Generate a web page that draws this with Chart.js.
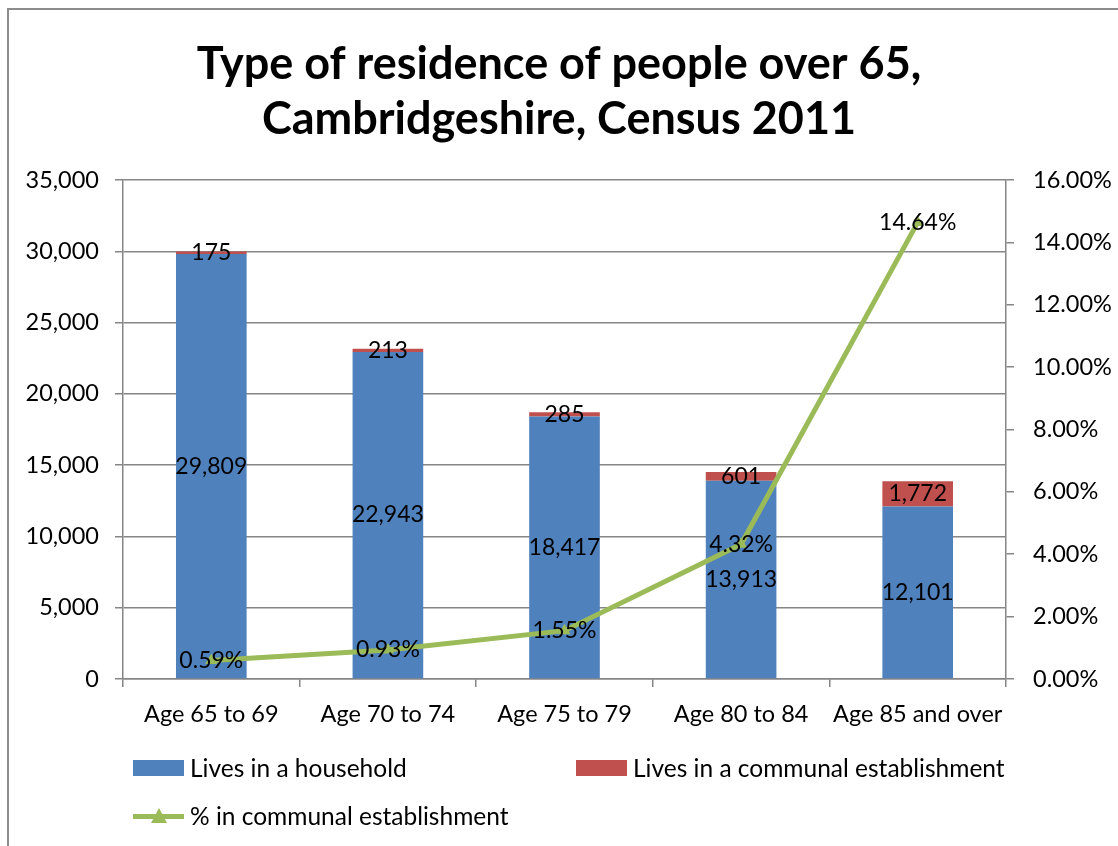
<!DOCTYPE html>
<html>
<head>
<meta charset="utf-8">
<script src="https://cdn.jsdelivr.net/npm/chart.js@4"></script>
<style>
html, body { margin: 0; padding: 0; background: #fff; overflow: hidden; }
#wrap { position: relative; width: 1118px; height: 846px; }
#frame { position: absolute; left: 7px; top: 8px; width: 1200px; height: 1000px; border: 2px solid #8c8c8c; box-sizing: border-box; }
canvas { position: absolute; left: 0; top: 0; }
.item { position: absolute; font-family: Lato, sans-serif; font-size: 24.5px; color: #000; line-height: 28px; white-space: nowrap; }
.box { position: absolute; left: 0; top: 6px; width: 51px; height: 16px; }
.item span.txt { position: absolute; left: 57px; top: 0; }
.ln { position: absolute; left: 0; top: 12px; width: 51px; height: 5px; background: #9BBB59; }
.tri { position: absolute; left: 18px; top: 6px; width: 0; height: 0; border-left: 8px solid transparent; border-right: 8px solid transparent; border-bottom: 15px solid #9BBB59; }
</style>
</head>
<body>
<div id="wrap">
  <div id="frame"></div>
  <canvas id="residenceChart" width="1118" height="846"></canvas>
  <div id="legend"></div>
</div>
<script>
var categories = ['Age 65 to 69', 'Age 70 to 74', 'Age 75 to 79', 'Age 80 to 84', 'Age 85 and over'];
var household = [29809, 22943, 18417, 13913, 12101];
var communal = [175, 213, 285, 601, 1772];
var pctCommunal = [0.59, 0.93, 1.55, 4.32, 14.64];

var FONT = 'Lato, sans-serif';
var GRID = '#868686';

var valueLabels = {
    id: 'valueLabels',
    afterDatasetsDraw: function(chart) {
        var ctx = chart.ctx;
        ctx.save();
        ctx.font = '23px ' + FONT;
        ctx.fillStyle = '#000';
        ctx.textAlign = 'center';
        ctx.textBaseline = 'middle';
        chart.data.datasets.forEach(function(ds, i) {
            var meta = chart.getDatasetMeta(i);
            meta.data.forEach(function(el, j) {
                var v = ds.data[j];
                if (ds.type === 'line') {
                    ctx.fillText(v.toFixed(2) + '%', el.x, el.y);
                } else {
                    ctx.fillText(v.toLocaleString('en-US'), el.x, (el.y + el.base) / 2);
                }
            });
        });
        ctx.restore();
    }
};

var ctx = document.getElementById('residenceChart').getContext('2d');
var residenceChart = new Chart(ctx, {
    type: 'bar',
    data: {
        labels: categories,
        datasets: [{
            label: 'Lives in a household',
            data: household,
            backgroundColor: '#4F81BD',
            order: 2,
            stack: 's'
        }, {
            label: 'Lives in a communal establishment',
            data: communal,
            backgroundColor: '#C0504D',
            order: 2,
            stack: 's'
        }, {
            type: 'line',
            label: '% in communal establishment',
            data: pctCommunal,
            yAxisID: 'y2',
            borderColor: '#9BBB59',
            backgroundColor: '#9BBB59',
            borderWidth: 5,
            pointStyle: 'triangle',
            pointRadius: 7,
            pointBorderWidth: 0,
            tension: 0,
            order: 0
        }]
    },
    options: {
        responsive: false,
        animation: false,
        layout: { padding: 0 },
        datasets: { bar: { barPercentage: 0.4, categoryPercentage: 1 } },
        plugins: {
            legend: { display: false },
            tooltip: { enabled: false },
            title: {
                display: true,
                text: ['Type of residence of people over 65,', 'Cambridgeshire, Census 2011'],
                color: '#000',
                font: { family: FONT, size: 45, weight: 'bold', lineHeight: 1.222 },
                padding: { top: 37, bottom: 33 }
            }
        },
        scales: {
            x: {
                stacked: true,
                grid: { offset: true, drawOnChartArea: false, tickLength: 8, color: GRID, lineWidth: 1.5 },
                border: { color: GRID, width: 1.5 },
                ticks: { color: '#000', font: { family: FONT, size: 23.5 }, padding: 13 },
                afterFit: function(scale) { scale.height = 167; }
            },
            y: {
                stacked: true,
                min: 0,
                max: 35000,
                ticks: {
                    stepSize: 5000,
                    color: '#000',
                    font: { family: FONT, size: 23.5 },
                    padding: 16,
                    callback: function(v) { return v.toLocaleString('en-US'); }
                },
                grid: { color: GRID, lineWidth: 1.5, tickLength: 8 },
                border: { color: GRID, width: 1.5 },
                afterFit: function(scale) { scale.width = 123; }
            },
            y2: {
                position: 'right',
                min: 0,
                max: 16,
                ticks: {
                    stepSize: 2,
                    color: '#000',
                    font: { family: FONT, size: 23.5 },
                    padding: 19,
                    callback: function(v) { return v.toFixed(2) + '%'; }
                },
                grid: { drawOnChartArea: false, color: GRID, lineWidth: 1.5, tickLength: 8 },
                border: { color: GRID, width: 1.5 },
                afterFit: function(scale) { scale.width = 112; }
            }
        }
    },
    plugins: [valueLabels]
});

// legend laid out in two columns like the original
var legendPos = [[133, 754], [576, 754], [133, 802]];
var legend = document.getElementById('legend');
residenceChart.data.datasets.forEach(function(ds, i) {
    var item = document.createElement('div');
    item.className = 'item';
    item.style.left = legendPos[i][0] + 'px';
    item.style.top = legendPos[i][1] + 'px';
    if (ds.type === 'line') {
        item.innerHTML = '<div class="ln"></div><div class="tri"></div>';
    } else {
        item.innerHTML = '<div class="box" style="background:' + ds.backgroundColor + '"></div>';
    }
    var t = document.createElement('span');
    t.className = 'txt';
    t.textContent = ds.label;
    item.appendChild(t);
    legend.appendChild(item);
});
</script>
</body>
</html>
